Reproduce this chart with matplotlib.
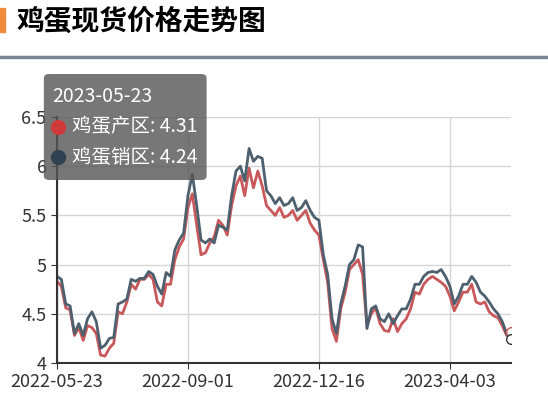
import matplotlib.pyplot as plt
from matplotlib.patches import FancyBboxPatch, Rectangle

plt.rcParams['font.family'] = ['Noto Sans CJK SC', 'DejaVu Sans']

title = "鸡蛋现货价格走势图"
tick_labels = ["2022-05-23", "2022-09-01", "2022-12-16", "2023-04-03"]
tick_idx = [0, 30, 60, 90]

# 鸡蛋销区 (dark line)
xiao = [4.88, 4.85, 4.60, 4.58, 4.30, 4.40, 4.28, 4.45, 4.52, 4.42,
        4.15, 4.18, 4.25, 4.26, 4.60, 4.62, 4.65, 4.85, 4.83, 4.86,
        4.86, 4.93, 4.90, 4.78, 4.70, 4.92, 4.88, 5.15, 5.25, 5.32,
        5.70, 5.92, 5.60, 5.25, 5.22, 5.26, 5.22, 5.40, 5.38, 5.35,
        5.70, 5.95, 6.00, 5.85, 6.18, 6.05, 6.10, 6.08, 5.75, 5.70,
        5.62, 5.68, 5.60, 5.62, 5.68, 5.55, 5.58, 5.65, 5.55, 5.48,
        5.45, 5.10, 4.90, 4.45, 4.30, 4.60, 4.78, 5.00, 5.05, 5.20,
        5.18, 4.35, 4.55, 4.58, 4.45, 4.42, 4.50, 4.40, 4.48, 4.55,
        4.55, 4.65, 4.80, 4.80, 4.88, 4.92, 4.93, 4.92, 4.95, 4.88,
        4.78, 4.60, 4.68, 4.80, 4.80, 4.88, 4.82, 4.72, 4.68, 4.62,
        4.55, 4.50, 4.42, 4.30, 4.24]
# 鸡蛋产区 (red line)
chan = [4.83, 4.78, 4.56, 4.54, 4.28, 4.36, 4.23, 4.38, 4.36, 4.30,
        4.08, 4.07, 4.15, 4.20, 4.52, 4.50, 4.62, 4.80, 4.75, 4.85,
        4.85, 4.90, 4.85, 4.62, 4.58, 4.80, 4.80, 5.05, 5.18, 5.26,
        5.58, 5.72, 5.40, 5.10, 5.12, 5.22, 5.28, 5.45, 5.40, 5.30,
        5.60, 5.80, 5.90, 5.70, 5.98, 5.78, 5.95, 5.80, 5.60, 5.55,
        5.50, 5.58, 5.48, 5.50, 5.55, 5.45, 5.50, 5.55, 5.42, 5.35,
        5.30, 5.05, 4.82, 4.35, 4.22, 4.55, 4.72, 4.95, 5.00, 5.05,
        4.90, 4.38, 4.50, 4.56, 4.40, 4.33, 4.32, 4.45, 4.32, 4.40,
        4.45, 4.55, 4.72, 4.70, 4.80, 4.85, 4.88, 4.85, 4.82, 4.78,
        4.68, 4.53, 4.62, 4.72, 4.72, 4.80, 4.62, 4.60, 4.62, 4.52,
        4.48, 4.46, 4.38, 4.28, 4.31]

red = "#c9585a"
dark = "#4e606e"
fig = plt.figure(figsize=(5.48, 4.0), dpi=100)
ax = fig.add_axes([0.104, 0.0925, 0.8285, 0.615])
x = list(range(len(xiao)))
ax.plot(x, chan, color=red, lw=2, zorder=3)
ax.plot(x, xiao, color=dark, lw=2, zorder=4)
ax.plot(x[-1], chan[-1], 'o', mfc='white', mec=red, ms=7, zorder=5)
ax.plot(x[-1], xiao[-1], 'o', mfc='white', mec='#333333', ms=7, zorder=5)

ax.set_xlim(0, len(xiao) - 1)
ax.set_ylim(4, 6.5)
ax.set_yticks([4, 4.5, 5, 5.5, 6, 6.5])
ax.set_yticklabels(["4", "4.5", "5", "5.5", "6", "6.5"])
ax.set_xticks(tick_idx)
ax.set_xticklabels(tick_labels)
ax.tick_params(labelsize=13, colors='#333333', length=4)
ax.grid(True, color='#d6d6d6', lw=1)
for s in ['top', 'right']:
    ax.spines[s].set_visible(False)
for s in ['left', 'bottom']:
    ax.spines[s].set_color('#333333')
    ax.spines[s].set_linewidth(1.5)
ax.axvline(0, color='#333333', lw=1.5, zorder=6)

# title area
fig.text(0.03, 0.945, title, fontsize=20, fontweight='heavy', va='center')
fig.patches.append(Rectangle((0, 0.92), 0.01, 0.06, transform=fig.transFigure,
                             color='#f08a3c', figure=fig))
fig.add_artist(plt.Line2D([0, 1], [0.857, 0.857], color='#7a8595', lw=2.5))

# tooltip
box = FancyBboxPatch((0.08, 0.55), 0.297, 0.265, boxstyle="round,pad=0,rounding_size=0.01",
                     transform=fig.transFigure, fc='#555555', alpha=0.8, ec='none', zorder=10)
fig.patches.append(box)
fig.text(0.095, 0.76, "2023-05-23", fontsize=14, color='white', va='center', zorder=11)
fig.text(0.132, 0.683, f"鸡蛋产区: {chan[-1]:.2f}", fontsize=14, color='white', va='center', zorder=11)
fig.text(0.132, 0.607, f"鸡蛋销区: {xiao[-1]:.2f}", fontsize=14, color='white', va='center', zorder=11)
fig.add_artist(plt.Line2D([0.105], [0.683], marker='o', ms=10, color='#d0393a', zorder=11))
fig.add_artist(plt.Line2D([0.105], [0.607], marker='o', ms=10, color='#2f4153', zorder=11))

plt.savefig("out.png", dpi=100)
